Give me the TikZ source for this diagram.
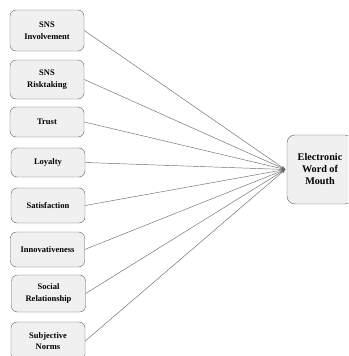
\documentclass[tikz,border=0pt]{standalone}
\usepackage{fontspec}
\setmainfont{Liberation Serif}
\usetikzlibrary{arrows.meta}
\begin{document}
\begin{tikzpicture}[x=1pt, y=-1pt,
            factor/.style = {draw=gray!75!black, fill=gray!12, rounded corners=6pt,
                align=center, inner sep=1pt, minimum width=74pt,
                font=\bfseries\fontsize{8.5}{11.5}\selectfont},
            link/.style = {draw=gray!85!black, line width=0.45pt,
                -{Stealth[length=4pt, width=3pt]}}]
            \useasboundingbox (0,0) rectangle (348,356);
            \clip (0,0) rectangle (348,356);
            % left column
            \node [factor, minimum height=41pt] (inv) at (47,30.5) {SNS\\Involvement};
            \node [factor, minimum height=39pt] (risk) at (47,79.5) {SNS\\Risktaking};
            \node [factor, minimum height=30pt] (trust) at (47,122) {Trust};
            \node [factor, minimum height=29pt] (loyal) at (48,162.5) {Loyalty};
            \node [factor, minimum height=35pt] (satis) at (48,205.5) {Satisfaction};
            \node [factor, minimum height=35pt] (innov) at (47.5,249.5) {Innovativeness};
            \node [factor, minimum height=37pt] (social) at (48.5,293.5) {Social\\Relationship};
            \node [factor, minimum height=38pt] (norms) at (48,341) {Subjective\\Norms};
            % outcome
            \node [factor, minimum width=66pt, minimum height=69pt, rounded corners=8pt,
                font=\bfseries\fontsize{10.2}{12}\selectfont] (ewom) at (320,169.5)
                {Electronic\\Word of\\Mouth};
            \foreach \src in {inv, risk, trust, loyal, satis, innov, social, norms}
                \draw [link] (\src.east) -- ([xshift=-1.5pt]ewom.west);
        \end{tikzpicture}
\end{document}
